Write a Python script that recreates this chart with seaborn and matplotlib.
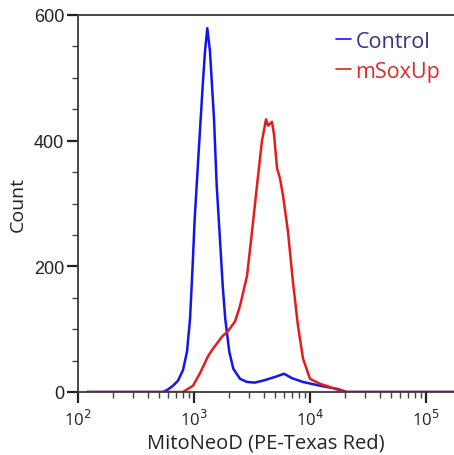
#!/usr/bin/env python3
"""
Flow cytometry histogram: MitoNeoD signal, Control vs mSoxUp.
"""

import matplotlib

matplotlib.use("Agg")
import matplotlib.pyplot as plt
from matplotlib.ticker import FixedLocator, LogLocator, NullFormatter
import pandas as pd
import seaborn as sns

# Fluorescence intensity (PE-Texas Red) and event counts.
CONTROL_X = [120, 540, 597, 659, 728, 804, 870, 924, 970, 1014, 1098, 1189,
             1244, 1302, 1374, 1487, 1569, 1633, 1699, 1768, 1861, 2015,
             2182, 2493, 2863, 3357, 4094, 4993, 5970, 6995, 8704, 12197,
             17090, 20844, 175000]
CONTROL_Y = [0, 0, 4, 10, 18, 35, 64, 116, 195, 276, 383, 488,
             542, 579, 542, 435, 329, 276, 223, 169, 116, 64,
             37, 21, 16, 15, 19, 24, 29, 22, 16, 10,
             5, 0, 0]

SOX_X = [120, 803, 980, 1127, 1321, 1459, 1742, 1963, 2255, 2492, 2866, 3162,
         3493, 3857, 4178, 4348, 4702, 4897, 5200, 5510, 5850, 6460, 7130,
         7880, 8710, 10000, 12200, 14860, 18150, 20400, 175000]
SOX_Y = [0, 0, 10, 30, 57, 69, 88, 97, 112, 137, 185, 255,
         329, 400, 434, 424, 430, 410, 356, 340, 313, 255, 175,
         105, 53, 21, 13, 8, 2, 0, 0]

SAMPLES = ["Control", "mSoxUp"]
COLORS = {"Control": "#1414ee", "mSoxUp": "#e61c1c"}
TEXT_COLORS = {"Control": "#34348a", "mSoxUp": "#e02a2a"}

Y_TICKS = [0, 200, 400, 600]
X_TICKS = [1e2, 1e3, 1e4, 1e5]
X_TICK_LABELS = ["10$^2$", "10$^3$", "10$^4$", "10$^5$"]


def main() -> None:
    df = pd.concat(
        [
            pd.DataFrame({"intensity": CONTROL_X, "count": CONTROL_Y, "sample": "Control"}),
            pd.DataFrame({"intensity": SOX_X, "count": SOX_Y, "sample": "mSoxUp"}),
        ],
        ignore_index=True,
    )

    sns.set_style("white")
    plt.rcParams["font.family"] = ["Open Sans", "DejaVu Sans"]

    fig = plt.figure(figsize=(4.54, 4.56), dpi=100)
    ax = fig.add_axes([78 / 454, 1 - 393 / 456, 1 - 78 / 454, (393 - 16) / 456])

    sns.lineplot(
        data=df,
        x="intensity",
        y="count",
        hue="sample",
        hue_order=SAMPLES,
        palette=COLORS,
        estimator=None,
        sort=False,
        linewidth=1.8,
        ax=ax,
    )

    ax.set_xscale("log")
    ax.set_xlim(1e2, 10 ** (2 + 376 / 116))
    ax.set_ylim(0, 600)

    # Axis styling (FlowJo-like).
    for side in ("left", "bottom", "top"):
        ax.spines[side].set_color("#3a3a3a")
        ax.spines[side].set_linewidth(1.3)
    ax.spines["right"].set_visible(False)

    ax.yaxis.set_major_locator(FixedLocator(Y_TICKS))
    ax.yaxis.set_minor_locator(FixedLocator(range(0, 601, 50)))
    ax.xaxis.set_major_locator(FixedLocator(X_TICKS))
    ax.xaxis.set_minor_locator(LogLocator(base=10, subs=range(2, 10), numticks=20))
    ax.xaxis.set_minor_formatter(NullFormatter())
    ax.set_xticklabels(X_TICK_LABELS)

    ax.tick_params(axis="both", which="major", direction="out", length=8,
                   width=1.6, color="#222222", left=True, bottom=True)
    ax.tick_params(axis="both", which="minor", direction="out", length=4.5,
                   width=1.0, color="#444444", left=True, bottom=True)
    ax.tick_params(axis="y", which="major", labelsize=13, pad=2, labelcolor="#222222")
    ax.tick_params(axis="x", which="major", labelsize=12, pad=4, labelcolor="#222222")
    for lbl in ax.get_yticklabels():
        lbl.set_family(["Liberation Sans", "DejaVu Sans"])

    ax.set_xlabel("MitoNeoD (PE-Texas Red)", fontsize=14.5, color="#222222", labelpad=2.5)
    ax.set_ylabel("Count", fontsize=14, color="#222222", labelpad=5)

    leg = ax.legend(
        loc="upper left",
        bbox_to_anchor=((336 - 78) / 376, (393 - 32) / 377),
        frameon=False,
        fontsize=15.5,
        handlelength=0.7,
        handletextpad=0.2,
        labelspacing=0.4,
        borderaxespad=0,
        borderpad=0,
    )
    for line, text in zip(leg.get_lines(), leg.get_texts()):
        line.set_linewidth(1.2)
        text.set_color(TEXT_COLORS[text.get_text()])

    fig.savefig("out.png", dpi=100)
    plt.close(fig)


if __name__ == "__main__":
    main()
